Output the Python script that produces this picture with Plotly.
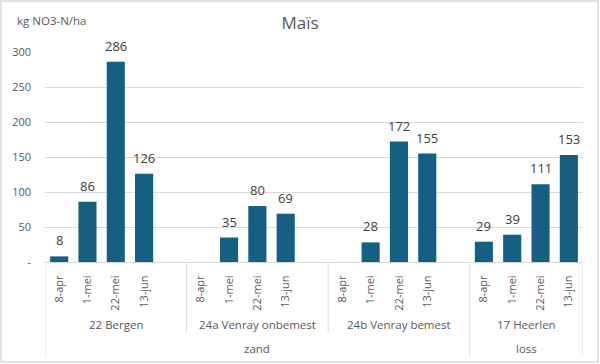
import plotly.graph_objects as go

# ---- data ----
dates = ["8-apr", "1-mei", "22-mei", "13-jun"]
locations = ["22 Bergen", "24a Venray onbemest", "24b Venray bemest", "17 Heerlen"]
soils = ["zand", "zand", "zand", "loss"]
bergen = [8, 86, 286, 126]
venray_onbemest = [None, 35, 80, 69]
venray_bemest = [None, 28, 172, 155]
heerlen = [29, 39, 111, 153]
series = [bergen, venray_onbemest, venray_bemest, heerlen]
y_ticks = [0, 50, 100, 150, 200, 250, 300]
y_ticktext = ["-", "50", "100", "150", "200", "250", "300"]

# ---- layout geometry ----
W, H = 600, 364
ML, MR, MT, MB = 45, 17, 52, 102
PW, PH = W - ML - MR, H - MT - MB
GROUP = len(dates) + 1  # one blank slot between groups
FONT = "Open Sans"
GRAY = "#595959"
LINE = "#D9D9D9"
BAR = "#156082"

def px_x(px):
    return (px - ML) / PW

def px_y(py):
    return 1 - (py - MT) / PH

xs, ys, tickvals, ticktext = [], [], [], []
for g, vals in enumerate(series):
    for d, v in enumerate(vals):
        pos = g * GROUP + d
        xs.append(pos)
        ys.append(v)
        tickvals.append(pos)
        ticktext.append(dates[d])
n_slots = GROUP * (len(series) - 1) + len(dates)
x_range = [-0.5, n_slots - 0.5]

fig = go.Figure()
fig.add_trace(go.Bar(x=xs, y=ys, marker_color=BAR, marker_line_width=0,
                     hoverinfo="x+y"))

annotations = []
# data labels
for x, v in zip(xs, ys):
    if v is None:
        continue
    annotations.append(dict(x=x, y=v, xref="x", yref="y", text=str(v),
                            showarrow=False, yanchor="bottom", yshift=5,
                            font=dict(family=FONT, size=13, color="#404040")))

shapes = []

# location labels
for g, loc in enumerate(locations):
    start = g * GROUP - 0.5
    end = min(start + GROUP, x_range[1])
    annotations.append(dict(x=(start + end) / 2, y=px_y(324), xref="x", yref="paper",
                            text=loc, showarrow=False, yanchor="middle",
                            font=dict(family=FONT, size=11.5, color=GRAY)))

# boundaries
bounds = [x_range[0]] + [g * GROUP - 0.5 for g in range(1, len(locations))] + [x_range[1]]
for i, b in enumerate(bounds):
    if 0 < i < len(bounds) - 1:
        full = soils[i - 1] != soils[i]
    else:
        full = True
    y_end = 357 if full else 332
    shapes.append(dict(type="line", xref="x", yref="paper", x0=b, x1=b,
                       y0=px_y(262), y1=px_y(y_end), line=dict(color=LINE, width=1)))

# soil labels
soil_groups = []
for g, s in enumerate(soils):
    if soil_groups and soil_groups[-1][0] == s:
        soil_groups[-1][2] = g
    else:
        soil_groups.append([s, g, g])
for s, g0, g1 in soil_groups:
    start = g0 * GROUP - 0.5
    end = min(g1 * GROUP - 0.5 + GROUP, x_range[1])
    annotations.append(dict(x=(start + end) / 2, y=px_y(348), xref="x", yref="paper",
                            text=s, showarrow=False, yanchor="middle",
                            font=dict(family=FONT, size=11.5, color=GRAY)))

# y-axis title
annotations.append(dict(x=px_x(15), y=px_y(20), xref="paper", yref="paper",
                        text="kg NO3-N/ha", showarrow=False, xanchor="left", yanchor="middle",
                        font=dict(family=FONT, size=11.5, color=GRAY)))

# outer border
shapes.append(dict(type="rect", xref="paper", yref="paper",
                   x0=px_x(1), x1=px_x(W - 2), y0=px_y(H - 2), y1=px_y(1),
                   line=dict(color=LINE, width=1.5), fillcolor="rgba(0,0,0,0)"))

fig.update_layout(
    width=W, height=H,
    margin=dict(l=ML, r=MR, t=MT, b=MB, pad=0),
    paper_bgcolor="white", plot_bgcolor="white",
    showlegend=False,
    bargap=0.36,
    title=dict(text="Maïs", x=0.5, xref="container", xanchor="center",
               y=1 - 23 / H, yref="container", yanchor="middle",
               font=dict(family=FONT, size=17, color=GRAY)),
    xaxis=dict(range=x_range, tickmode="array", tickvals=tickvals, ticktext=ticktext,
               tickangle=-90, showgrid=False, zeroline=False, showline=True,
               linecolor=LINE, linewidth=1, ticks="", ticklabelstandoff=8,
               tickfont=dict(family=FONT, size=11, color=GRAY)),
    yaxis=dict(range=[0, 300], tickmode="array", tickvals=y_ticks, ticktext=y_ticktext,
               showgrid=True, gridcolor=LINE, gridwidth=1, zeroline=False,
               showline=False, ticks="", ticklabelstandoff=13,
               tickfont=dict(family=FONT, size=11, color=GRAY)),
    annotations=annotations,
    shapes=shapes,
)

fig.write_html("out.html", config={"displayModeBar": False},
               post_script="document.body.style.margin='0';document.body.style.overflow='hidden';")
